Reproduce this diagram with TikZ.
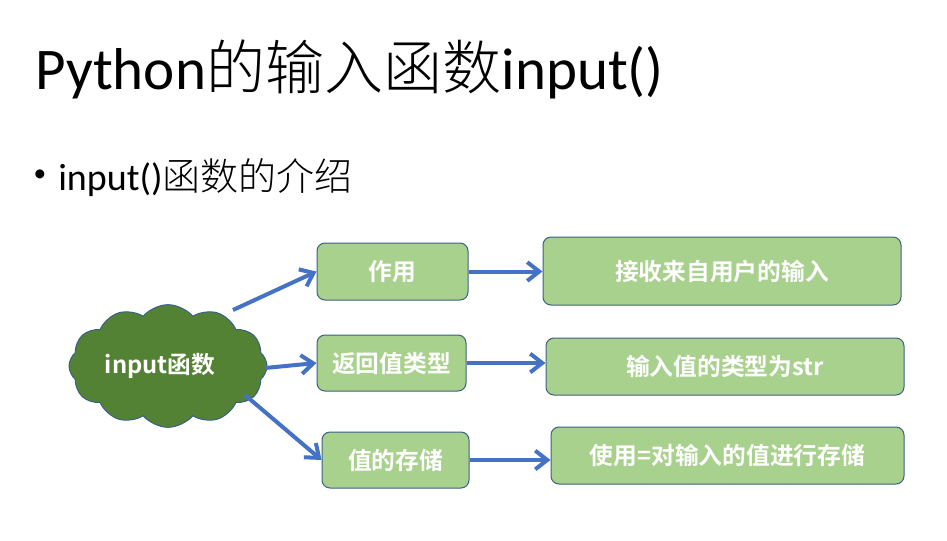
\documentclass[tikz,border=0pt]{standalone}
\usepackage{fontspec}
\usetikzlibrary{shapes.symbols,arrows.meta}
\newfontfamily\carl{Carlito}
\newfontfamily\cjkl{Noto Sans CJK SC Light}
\newfontfamily\cjk{Noto Sans CJK SC}[BoldFont={Noto Sans CJK SC Bold}]
\definecolor{cloudg}{HTML}{548235}
\definecolor{cloudedge}{HTML}{3A5F8A}
\definecolor{boxg}{HTML}{A9D18E}
\definecolor{boxedge}{HTML}{3B6282}
\definecolor{arr}{HTML}{4472C4}
\begin{document}
\begin{tikzpicture}[x=0.75pt,y=-0.75pt,
  box/.style={draw=boxedge, line width=0.75pt, fill=boxg, rounded corners=6pt, inner sep=0pt,
    text=white, font=\cjk\bfseries\fontsize{17.8}{20}\selectfont},
  link/.style={draw=arr, line width=3pt, -{Straight Barb[length=9pt,width=14pt]}},
  titletext/.style={anchor=base west, inner sep=0pt, font=\fontsize{44.3}{50}\selectfont},
  subtext/.style={anchor=base west, inner sep=0pt, font=\fontsize{28.5}{30}\selectfont}]
\useasboundingbox (0,0) rectangle (947,540);
\fill[white] (0,0) rectangle (947,540);
% title
\node[titletext] (title) at (35,89) {\carl Python\cjkl 的输入函数\carl input()};
\node[inner sep=0pt, font=\carl\fontsize{19}{20}\selectfont] (bul) at (40,176) {•};
\node[subtext] (sub) at (58,190) {\carl input()\cjkl 函数的介绍};
% cloud
\node[cloud, cloud puffs=12, cloud puff arc=100, cloud ignores aspect, draw=cloudedge, fill=cloudg,
  line width=0.75pt, minimum width=148.5pt, minimum height=92pt, inner sep=0pt, text=white,
  font=\cjk\bfseries\fontsize{17.8}{20}\selectfont] (cl) at (168,366) {\hspace*{-12pt}input函数};
% boxes
\node[box, minimum width=113.25pt, minimum height=42.75pt] (b1) at (392.5,271.5) {作用};
\node[box, minimum width=111.75pt, minimum height=42pt] (b2) at (391.5,363) {返回值类型};
\node[box, minimum width=110.25pt, minimum height=42pt] (b3) at (395.5,460) {值的存储};
\node[box, minimum width=268.5pt, minimum height=51pt] (r1) at (722,271) {接收来自用户的输入};
\node[box, minimum width=268.5pt, minimum height=42.75pt] (r2) at (725,366.5) {输入值的类型为str};
\node[box, minimum width=264.75pt, minimum height=42.75pt] (r3) at (727.5,455.5) {使用=对输入的值进行存储};
% connectors
\coordinate (c1) at (233,310);
\coordinate (c2) at (265,368);
\coordinate (c3) at (245,395);
\draw[link] (c1) -- (b1.west);
\draw[link] (c2) -- (b2.west);
\draw[link] (c3) -- (b3.west);
\draw[link] (b1.east) -- (b1.east -| r1.west);
\draw[link] (b2.east) -- (b2.east -| r2.west);
\draw[link] (b3.east) -- (b3.east -| r3.west);
\end{tikzpicture}
\end{document}
